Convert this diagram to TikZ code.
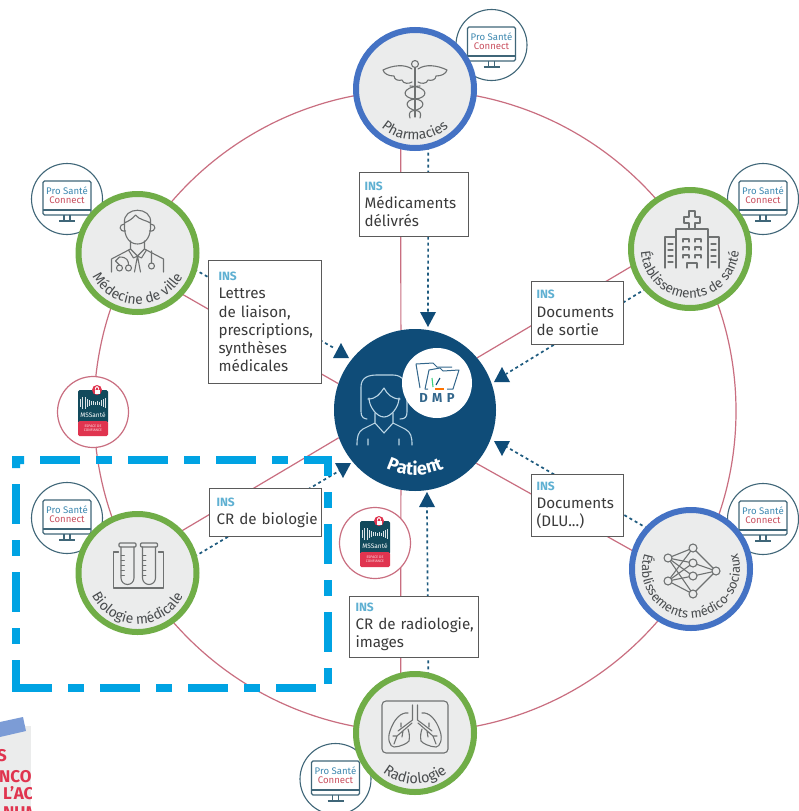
\documentclass[tikz,border=0pt]{standalone}
\usepackage{fontspec}
\setmainfont{Fira Sans}
\usetikzlibrary{arrows.meta,decorations.text,shapes.geometric}
\definecolor{ringpink}{HTML}{C96E80}
\definecolor{hubgreen}{HTML}{70AD47}
\definecolor{hubblue}{HTML}{4472C4}
\definecolor{hubfill}{HTML}{EBECEC}
\definecolor{icongray}{HTML}{6F7272}
\definecolor{labelgray}{HTML}{4A4D4F}
\definecolor{navy}{HTML}{0F4C78}
\definecolor{dotblue}{HTML}{1D5A7E}
\definecolor{pscline}{HTML}{3F6678}
\definecolor{pscblue}{HTML}{3D88B0}
\definecolor{pscred}{HTML}{C9505F}
\definecolor{insblue}{HTML}{5FB0D2}
\definecolor{boxline}{HTML}{5A5A5A}
\definecolor{boxtext}{HTML}{3A3A3A}
\definecolor{msdark}{HTML}{124A5C}
\definecolor{msred}{HTML}{E0344F}
\definecolor{dashcyan}{HTML}{00A3E3}
\definecolor{patline}{HTML}{BBD5E5}
\newcommand{\patfont}{\fontsize{18}{18}\selectfont\bfseries\color{white}}
\newcommand{\curvelabel}[5]{\path[decorate,decoration={text along path,text align=center,text={|\fontsize{#5}{#5}\selectfont\color{labelgray}|#4}}]
  (#1.center) ++(#2:#3pt) arc[start angle=#2,end angle=540-#2,radius=#3pt];}
\newcommand{\ins}{{\fontsize{12}{15}\selectfont\bfseries\color{insblue}INS}}
\tikzset{
  ringline/.style={draw=ringpink,line width=1.2pt},
  hub/.style={circle,draw=#1,fill=hubfill,line width=6pt,minimum size=118pt,inner sep=0pt},
  dotarrow/.style={draw=dotblue,line width=1.7pt,dash pattern=on 3pt off 3pt},
  infobox/.style={draw=boxline,fill=white,line width=1pt,anchor=north west,align=left,inner ysep=3pt,font=\fontsize{15.2}{18.2}\selectfont,text=boxtext},
  ico/.style={draw=icongray,line width=1.1pt,line cap=round,line join=round},
  cyandash/.style={draw=dashcyan,line width=8pt,dash pattern=on 16pt off 16pt on 40pt off 16pt,dash phase=8pt,line join=miter},
  triup/.pic={\fill[navy] (0,0) -- (8,15) -- (-8,15) -- cycle;},
  tridown/.pic={\fill[navy] (0,0) -- (8,-15) -- (-8,-15) -- cycle;},
  psc/.pic={
    \node[circle,draw=pscline,fill=white,line width=1.1pt,minimum size=71pt,inner sep=0pt] (-c) at (0,0) {};
    \draw[pscline,line width=1.1pt,rounded corners=1.5pt] (-24,-18) rectangle (24,16);
    \draw[pscline,line width=1.1pt] (-24,11) -- (24,11) (-3,16) -- (-3,22) (3,16) -- (3,22) (-8,22) -- (8,22);
    \node[text=pscblue,font=\fontsize{9.6}{10}\selectfont,inner sep=0pt] (-a) at (0,-8.5) {Pro Santé};
    \node[text=pscred,font=\fontsize{9.6}{10}\selectfont,inner sep=0pt] (-b) at (0,1) {Connect};
  },
  mss/.pic={
    \node[circle,draw=ringpink,fill=white,line width=1.2pt,minimum size=71pt,inner sep=0pt] (-c) at (0,0) {};
    \fill[msdark,rounded corners=1.5pt] (-15,-22) rectangle (15,11);
    \fill[msred,rounded corners=1.5pt] (-15,9) rectangle (15,24);
    \foreach \x/\h in {-13/4,-11/6,-8/6,-6/4,-4/3,-2/2,0/2,2/1.5,4/2,6/1.5,8/3,10/4,12/5}
      \draw[white!85!msdark,line width=1pt] (\x,-9-\h) -- (\x,-9+\h);
    \node[text=white,font=\fontsize{6.5}{7}\selectfont,inner sep=0pt] (-t) at (0,3) {MSSanté};
    \node[text=white!85!msred,font=\fontsize{3.6}{4}\selectfont,align=center,inner sep=0pt] (-u) at (0,16.5) {ESPACE DE\\CONFIANCE};
    \fill[msred] (4,-22) circle (5);
    \fill[white] (1.5,-22.5) rectangle (6.5,-18.5);
    \draw[white,line width=.8pt] (2.5,-22.5) -- (2.5,-24) arc[start angle=180,end angle=0,radius=1.5pt] -- (5.5,-22.5);
  },
  caduceus/.pic={
    \draw[ico] (0,-25) circle (3.5);
    \draw[ico] (0,-21.5) -- (0,28);
    \foreach \s in {1,-1}{
      \begin{scope}[xscale=\s]
      \draw[ico] (-3,-20) .. controls (-10,-25) and (-22,-24) .. (-32,-19) .. controls (-31,-15) and (-26,-13) .. (-21,-13)
        .. controls (-21,-9) and (-16,-8) .. (-13,-9) .. controls (-12,-5) and (-6,-5) .. (-3,-7);
      \draw[ico] (5,-3) .. controls (-14,-2) and (-14,9) .. (0,10) .. controls (11,11) and (11,20) .. (-3,22) .. controls (-6,23) and (-6,26) .. (-5,29);
      \end{scope}}
  },
  doctor/.pic={
    \draw[ico] (-13,-30) .. controls (-14,-16) and (-8,-9) .. (0,-9) .. controls (8,-9) and (14,-16) .. (13,-30);
    \draw[ico] (-13,-30) .. controls (-15,-47) and (15,-47) .. (13,-30) .. controls (8,-33) and (2,-33) .. (-2,-38) .. controls (-5,-34) and (-9,-32) .. (-13,-30);
    \draw[ico] (-13,-29) .. controls (-19,-29) and (-19,-21) .. (-12,-22) (13,-29) .. controls (19,-29) and (19,-21) .. (12,-22);
    \draw[ico] (-7,-12) -- (-7,-4) -- (-26,6) -- (-26,19) (7,-12) -- (7,-4) -- (26,6) -- (26,19);
    \draw[ico] (-7,-4) -- (0,3) -- (7,-4) (-9,-3) -- (-4,5) -- (0,3) -- (4,5) -- (9,-3) (0,3) -- (-3,19) (0,3) -- (3,19);
    \draw[ico] (-18,4) -- (-22,8) -- (-18,12) (-18,4) .. controls (-10,4) and (-9,8) .. (-9,12) (14,-2) -- (14,10);
    \draw[ico] (-18,15) circle (3) (-9,15) circle (3) (14,13) circle (3);
  },
  hospital/.pic={
    \draw[ico] (-1,-32) -- (-1,-38) -- (5,-38) -- (5,-32) -- (10,-32) -- (10,-26) -- (5,-26) -- (5,-20) -- (-1,-20) -- (-1,-26) -- (-6,-26) -- (-6,-32) -- cycle;
    \draw[ico] (-14,19) -- (-14,-20) -- (18,-20) -- (18,19);
    \draw[ico] (-14,-12) -- (-25,-12) -- (-25,19) (18,-12) -- (29,-12) -- (29,19);
    \draw[ico] (-22,-5) -- (-17,-5) (-22,1) -- (-17,1) (-22,7) -- (-17,7) (-22,13) -- (-17,13);
    \draw[ico] (21,-5) -- (26,-5) (21,1) -- (26,1) (21,7) -- (26,7) (21,13) -- (26,13);
    \foreach \y in {-10,-2,6}{
      \draw[ico] (-7,\y+3) -- (-7,\y) -- (-1,\y) -- (-1,\y+3) (5,\y+3) -- (5,\y) -- (11,\y) -- (11,\y+3);}
    \draw[ico] (-3,19) -- (-3,14) -- (7,14) -- (7,19);
  },
  tubes/.pic={
    \draw[ico] (-19,-21) -- (-24,-21) -- (-24,15) -- (26,15) -- (26,-21) -- (21,-21);
    \foreach \x in {-10,11.5}{
      \begin{scope}[xshift=\x pt]
      \draw[ico,rounded corners=1pt] (-8.5,-30) rectangle (8.5,-26);
      \draw[ico] (-6.5,-26) -- (-6.5,5) arc[start angle=180,end angle=360,radius=6.5pt] -- (6.5,-26);
      \foreach \t in {-18,-13,-8,-3,2}{\draw[ico,line width=.8pt] (-6.5,\t) -- (-3,\t);}
      \end{scope}}
  },
  neural/.pic={
    \foreach \a in {(-23,-11),(-23,12)}{
      \foreach \b in {(2,-21),(2,-6),(2,7),(2,25)}{\draw[ico] \a -- \b;}}
    \foreach \b in {(2,-21),(2,-6),(2,7),(2,25)}{\draw[ico] \b -- (25,2);}
    \foreach \p in {(-23,-11),(-23,12),(2,-21),(2,-6),(2,7),(2,25),(25,2)}{\draw[ico,fill=hubfill] \p circle (4);}
  },
  lungs/.pic={
    \draw[ico,rounded corners=4pt] (-33,-32) rectangle (33,20);
    \draw[ico] (-2.5,-28) -- (-2.5,-13) -- (-17,-2) (2.5,-28) -- (2.5,-13) -- (17,-2);
    \foreach \s in {1,-1}{
      \begin{scope}[xscale=\s]
      \draw[ico] (-7,-20) .. controls (-14,-21) and (-21,-14) .. (-25,-2) .. controls (-28,6) and (-25,14) .. (-21,14)
        .. controls (-15,14) and (-7,10) .. (-6,8) .. controls (-5,3) and (-6,-1) .. (-7,-4);
      \draw[ico] (-3,-10) -- (-18,3) -- (-21,11) (-18,3) -- (-22,3) (-12,-2) -- (-13,4) (-14,-6) -- (-14,-10);
      \end{scope}}
  },
  patienticon/.pic={
    \draw[patline,line width=1.1pt,line cap=round,line join=round]
      (-48,9) .. controls (-55,8) and (-54,4) .. (-54,-5) -- (-54,-23) .. controls (-54,-33) and (-46,-35) .. (-38,-35) -- (-22,-35)
      .. controls (-12,-35) and (-8,-27) .. (-8,-18) -- (-8,2) .. controls (-8,7) and (-10,9) .. (-15,9);
    \draw[patline,line width=1.1pt,line cap=round,line join=round]
      (-47,-11) .. controls (-39,-11) and (-35,-16) .. (-31,-22) .. controls (-28,-16) and (-23,-11) .. (-15,-11)
      (-46,-12) .. controls (-46,-3) and (-38,7) .. (-31,7) .. controls (-24,7) and (-16,-3) .. (-16,-12);
    \draw[patline,line width=1.1pt,line cap=round,line join=round]
      (-40,3) -- (-40,13) -- (-31,23) -- (-22,13) -- (-22,3)
      (-40,13) -- (-52,19) .. controls (-57,22) and (-58,27) .. (-58,35)
      (-22,13) -- (-10,19) .. controls (-4,22) and (-3,27) .. (-3,35)
      (-47,29) -- (-47,35) (-16,29) -- (-16,35);
  },
  folder/.pic={
    \draw[navy!85,line width=1pt,line join=round] (-17,5) -- (-21,-19) -- (-4,-20) -- (0,-16) -- (15,-16);
    \draw[navy!85,line width=1pt,line join=round] (-9,6) -- (-12,6) -- (-8,-13) -- (3,-15) -- (6,-12) -- (22,-13) -- (16,6) -- (10,6);
    \draw[insblue!60!green,line width=1.1pt] (-5,-5) -- (-4,4);
    \draw[navy,line width=1.1pt] (3,-5) -- (-1,2);
    \draw[orange!90!red,line width=1.2pt] (-2,6) -- (7,6);
  }
}
\begin{document}
\begin{tikzpicture}[x=1pt,y=-1pt]
\path[use as bounding box,fill=white] (0,0) rectangle (798,811);
% ring
\node[circle,ringline,minimum size=642pt,inner sep=0pt] (ring) at (415,411) {};
% hub centres and their footprints
\path
  (415,89) coordinate (cpharm) (137.5,253) coordinate (cmed) (690,249) coordinate (csan)
  (137.5,573) coordinate (cbio) (691,569) coordinate (cems) (415,733) coordinate (crad);
\node[circle,minimum size=162pt,inner sep=0pt] (patient) at (415,410) {};
\node[circle,minimum size=118pt,inner sep=0pt] (pharmb) at (cpharm) {};
\node[circle,minimum size=118pt,inner sep=0pt] (medb) at (cmed) {};
\node[circle,minimum size=118pt,inner sep=0pt] (sanb) at (csan) {};
\node[circle,minimum size=118pt,inner sep=0pt] (biob) at (cbio) {};
\node[circle,minimum size=118pt,inner sep=0pt] (emsb) at (cems) {};
\node[circle,minimum size=118pt,inner sep=0pt] (radb) at (crad) {};
% spokes
\draw[ringline] (patient.100) -- (pharmb.-104);
\draw[ringline] (patient.161) -- (medb.-43);
\draw[ringline] (patient.40) -- (sanb.196.5);
\draw[ringline] (patient.200) -- (biob.44);
\draw[ringline] (patient.-41) -- (emsb.163.5);
\draw[ringline] (patient.-100) -- (radb.104);
% line ends at the triangles
\coordinate (tpharm) at (428,314);
\coordinate (tmed) at (334,348);
\coordinate (tsan) at (506,374);
\coordinate (tbio) at (344,468);
\coordinate (tems) at (505,446);
\coordinate (trad) at (427,506);
% portals
\pic (psca) at (491.5,45) {psc};
\pic (pscb) at (67,199) {psc};
\pic (pscc) at (763,199) {psc};
\pic (pscd) at (67,518) {psc};
\pic (psce) at (763,519) {psc};
\pic (pscf) at (335.5,779) {psc};
\pic (mssa) at (93,412) {mss};
\pic (mssb) at (375,543) {mss};
% dotted connectors
\draw[dotarrow] (pharmb.-77) -- (tpharm);
\draw[dotarrow] (medb.-16.5) -- (tmed);
\draw[dotarrow] (sanb.222.5) -- (tsan);
\draw[dotarrow] (biob.16.5) -- (tbio);
\draw[dotarrow] (emsb.137.5) -- (tems);
\draw[dotarrow] (radb.77) -- (trad);
\pic (hpharm) at (428,327) {tridown};
\pic (hmed) at (341,343) {triup};
\pic (hsan) at (502,367) {triup};
\pic (hbio) at (343,478) {tridown};
\pic (hems) at (502,456) {tridown};
\pic (hrad) at (427,492) {triup};
% boxes
\node[infobox,inner xsep=5pt,text width=99pt,minimum height=64pt] (bpharm) at (359,172) {\ins\\\mbox{Médicaments}\\délivrés};
\node[infobox,inner xsep=10pt,text width=93pt,minimum height=123pt] (bmed) at (208,260) {\ins\\Lettres\\de liaison,\\\mbox{prescriptions,}\\synthèses\\médicales};
\node[infobox,inner xsep=5pt,text width=82pt,minimum height=63pt] (bsan) at (531,281) {\ins\\\mbox{Documents}\\de sortie};
\node[infobox,inner xsep=7pt,text width=98pt,minimum height=48pt] (bbio) at (209,488) {\ins\\\mbox{CR de biologie}};
\node[infobox,inner xsep=5pt,text width=82pt,minimum height=62pt] (bems) at (531,474) {\ins\\\mbox{Documents}\\(DLU...)};
\node[infobox,inner xsep=6pt,text width=117pt,minimum height=61pt] (brad) at (349,596) {\ins\\\mbox{CR de radiologie,}\\images};
% patient
\node[circle,fill=navy,minimum size=162pt,inner sep=0pt] (patientfill) at (patient.center) {};
\pic (pic1) at (415,410) {patienticon};
\node[circle,fill=white,minimum size=70pt,inner sep=0pt] (dmp) at (437,383) {};
\pic (pic2) at (437,383) {folder};
\node[text=navy!85,font=\fontsize{13}{13}\selectfont\bfseries,inner sep=0pt] (dmpt) at (437,398) {D\,\,M\,\,P};
\path[decorate,decoration={text along path,text align=center,text={|\patfont|Patient}}]
  (patient.center) ++(195:65pt) arc[start angle=195,end angle=345,radius=65pt];
% hubs
\node[hub=hubblue] (pharm) at (cpharm) {};
\node[hub=hubgreen] (med) at (cmed) {};
\node[hub=hubgreen] (san) at (csan) {};
\node[hub=hubgreen] (bio) at (cbio) {};
\node[hub=hubblue] (ems) at (cems) {};
\node[hub=hubgreen] (rad) at (crad) {};
\pic (ic1) at (cpharm) {caduceus};
\pic (ic2) at (cmed) {doctor};
\pic (ic3) at (csan) {hospital};
\pic (ic4) at (cbio) {tubes};
\pic (ic5) at (cems) {neural};
\pic (ic6) at (crad) {lungs};
\curvelabel{pharm}{180}{51}{Pharmacies}{14}
\curvelabel{med}{170}{51}{Médecine de ville}{14}
\curvelabel{san}{160}{49}{Établissements de santé}{13.5}
\curvelabel{bio}{170}{51}{Biologie médicale}{14}
\curvelabel{ems}{130}{49}{Établissements médico-sociaux}{13}
\curvelabel{rad}{180}{51}{Radiologie}{14.5}
% sticker
\begin{scope}
\clip (0,726) rectangle (31,811);
\fill[hubfill] (0,726) rectangle (31,811);
\node[anchor=base west,text=msred,font=\fontsize{17}{17}\selectfont\bfseries,inner sep=0pt] (st1) at (-3,761) {S};
\node[anchor=base west,text=msred,font=\fontsize{17}{17}\selectfont\bfseries,inner sep=0pt] (st2) at (-1,782) {NCO};
\node[anchor=base west,text=msred,font=\fontsize{17}{17}\selectfont\bfseries,inner sep=0pt] (st3) at (3,799) {L'AC};
\node[anchor=base west,text=msred,font=\fontsize{17}{17}\selectfont\bfseries,inner sep=0pt] (st4) at (3,818) {NUM};
\end{scope}
\fill[hubblue!70!white] (0,722) -- (23,717) -- (26,731) -- (0,737) -- cycle;
% dashed frame
\draw[cyandash] (16,460) -- (328,460) -- (328,688) -- (12,688);
\draw[cyandash] (16,460) -- (16,692);
\fill[dashcyan] (12,456) rectangle (24,464) (12,456) rectangle (20,468);
\end{tikzpicture}
\end{document}
